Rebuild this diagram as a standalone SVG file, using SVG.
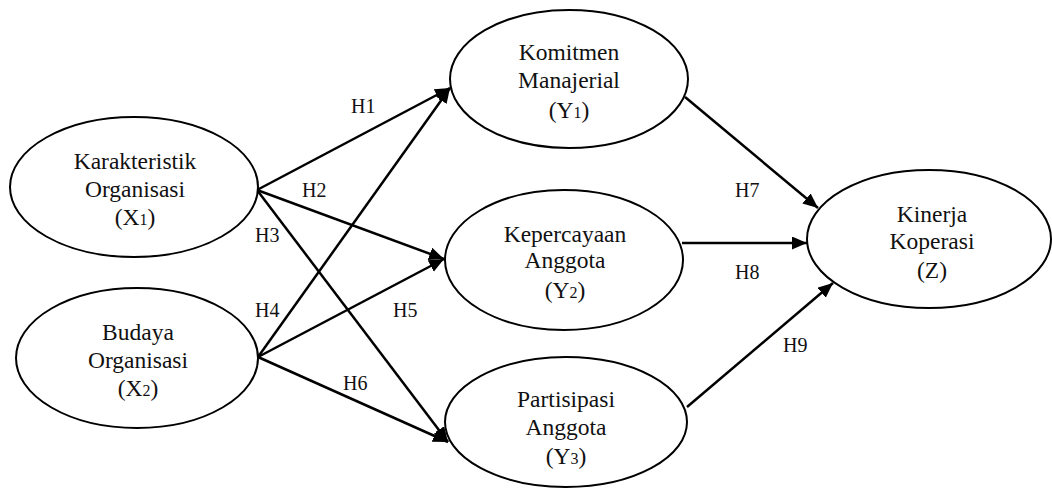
<svg xmlns="http://www.w3.org/2000/svg" width="1052" height="489" viewBox="0 0 1052 489">
<style>
.node ellipse{fill:#fff;stroke:#000;stroke-width:2}
.node text{font-family:"Liberation Serif","Times New Roman",serif;font-size:23.5px;fill:#111;text-anchor:middle}
.sub{font-size:16px}
.conn line{stroke:#000;stroke-width:2.5;marker-end:url(#arr)}
.lbl{font-family:"Liberation Serif","Times New Roman",serif;font-size:20px;fill:#111}
</style>
<defs>
<marker id="arr" markerUnits="userSpaceOnUse" markerWidth="16" markerHeight="14" refX="15" refY="6.5" orient="auto">
<path d="M0,0 L15,6.5 L0,13 z" fill="#000"/>
</marker>
</defs>
<rect width="1052" height="489" fill="#fff"/>
<g class="conn" id="connectors">
<line x1="257" y1="190" x2="450" y2="88"/>
<line x1="257" y1="190" x2="444" y2="259"/>
<line x1="257" y1="190" x2="448" y2="442"/>
<line x1="258" y1="357" x2="450" y2="88"/>
<line x1="258" y1="357" x2="444" y2="259"/>
<line x1="258" y1="357" x2="448" y2="442"/>
<line x1="685" y1="97" x2="818" y2="208"/>
<line x1="682" y1="243" x2="807" y2="243"/>
<line x1="687" y1="407" x2="833" y2="283"/>
</g>
<g id="labels">
<text class="lbl" x="351" y="113">H1</text>
<text class="lbl" x="302" y="197">H2</text>
<text class="lbl" x="255" y="242">H3</text>
<text class="lbl" x="255" y="317">H4</text>
<text class="lbl" x="393" y="317">H5</text>
<text class="lbl" x="343" y="390">H6</text>
<text class="lbl" x="735" y="197">H7</text>
<text class="lbl" x="735" y="279">H8</text>
<text class="lbl" x="783" y="352">H9</text>
</g>
<g class="node" id="X1">
<ellipse cx="134" cy="187" rx="124" ry="70"/>
<text x="135" y="169">Karakteristik</text>
<text x="135" y="197">Organisasi</text>
<text x="135" y="225">(X<tspan class="sub">1</tspan>)</text>
</g>
<g class="node" id="X2">
<ellipse cx="137" cy="358" rx="121" ry="70"/>
<text x="138" y="340">Budaya</text>
<text x="138" y="368">Organisasi</text>
<text x="138" y="396">(X<tspan class="sub">2</tspan>)</text>
</g>
<g class="node" id="Y1">
<ellipse cx="569" cy="79" rx="119" ry="69"/>
<text x="569" y="60">Komitmen</text>
<text x="569" y="88">Manajerial</text>
<text x="569" y="118">(Y<tspan class="sub">1</tspan>)</text>
</g>
<g class="node" id="Y2">
<ellipse cx="564" cy="260" rx="119" ry="70"/>
<text x="565" y="242">Kepercayaan</text>
<text x="565" y="268">Anggota</text>
<text x="565" y="298">(Y<tspan class="sub">2</tspan>)</text>
</g>
<g class="node" id="Y3">
<ellipse cx="566" cy="422" rx="121" ry="65"/>
<text x="566" y="407">Partisipasi</text>
<text x="566" y="435">Anggota</text>
<text x="566" y="464">(Y<tspan class="sub">3</tspan>)</text>
</g>
<g class="node" id="Z">
<ellipse cx="929" cy="239" rx="122" ry="69"/>
<text x="932" y="222">Kinerja</text>
<text x="932" y="249">Koperasi</text>
<text x="932" y="278">(Z)</text>
</g>
</svg>
